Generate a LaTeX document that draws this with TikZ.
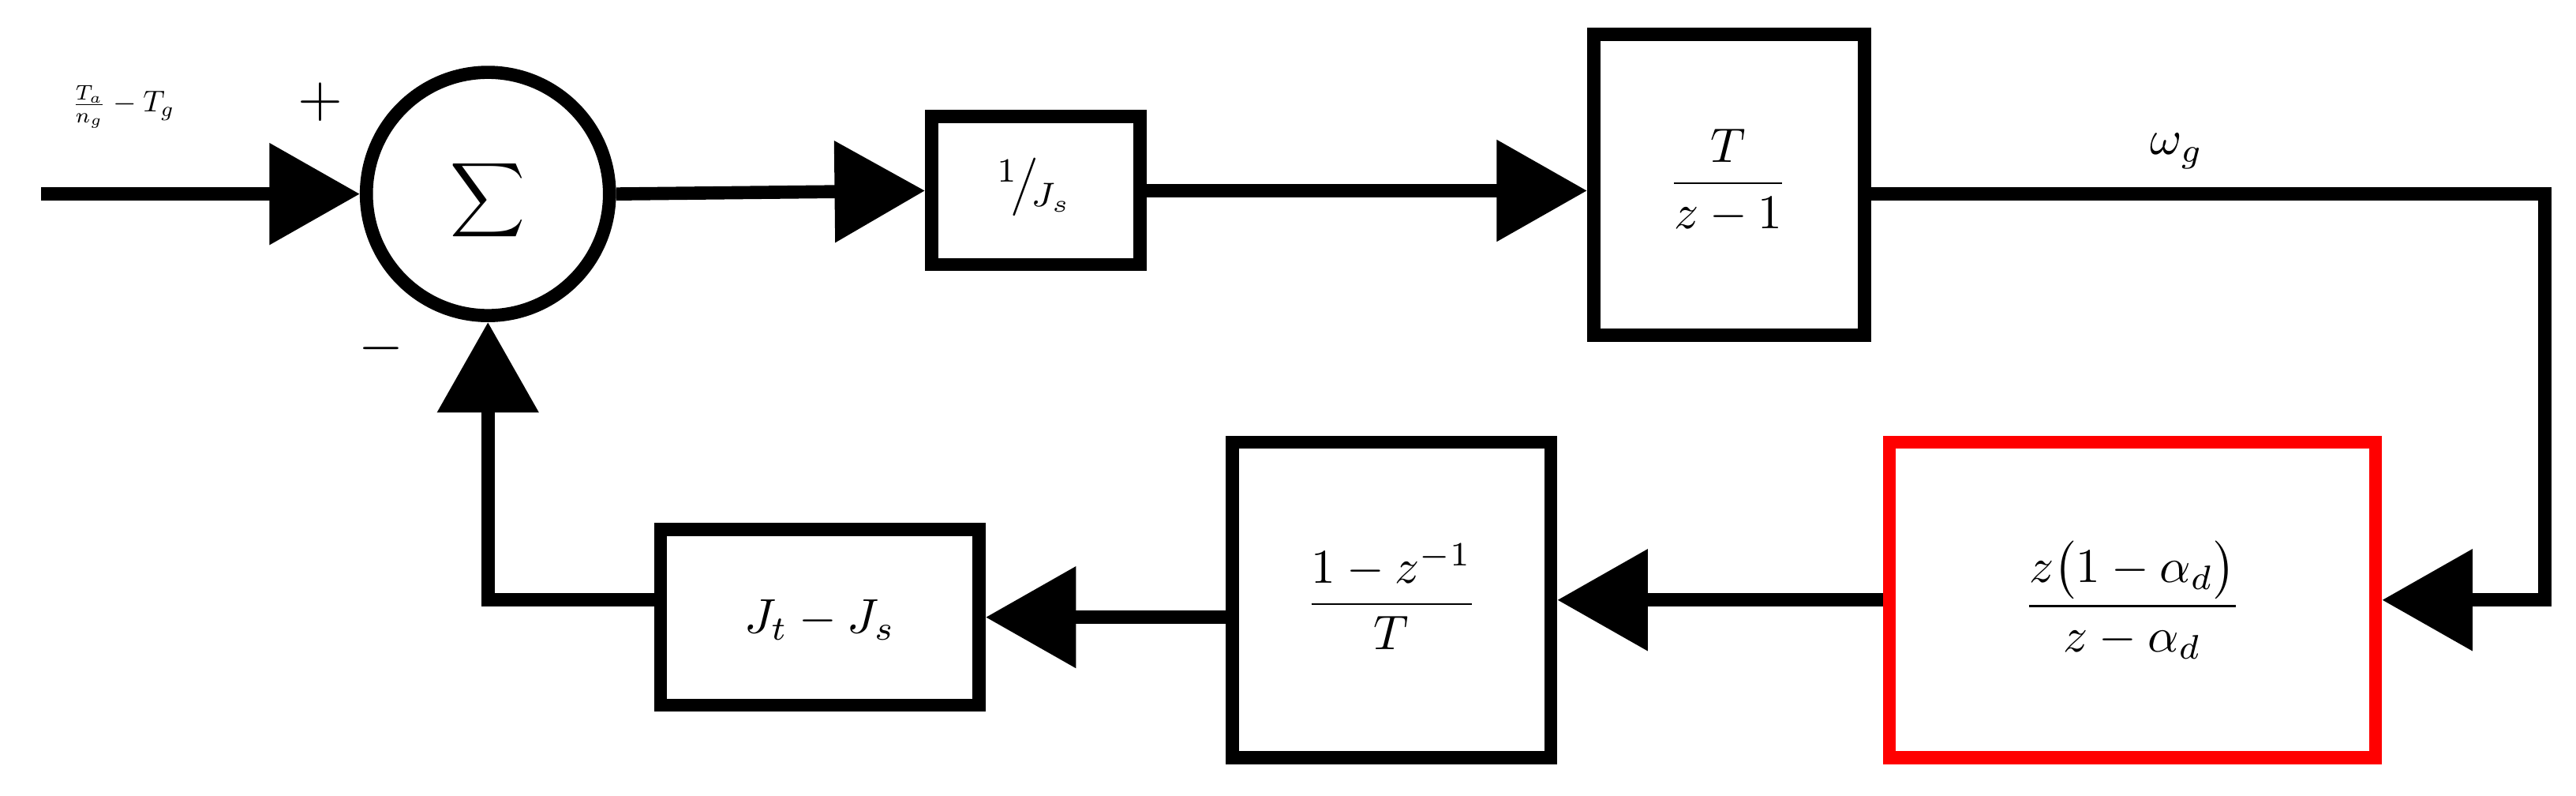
\documentclass[tikz,border=0pt]{standalone}
\usepackage{amsmath}
\usetikzlibrary{arrows.meta}
\begin{document}
\begin{tikzpicture}[x=0.05cm,y=-0.05cm,
  lw/.style={line width=0.4cm},
  blk/.style={draw,lw,inner sep=0pt},
  arr/.style={lw,-{Triangle[length=2.75cm,width=3cm]}},
  txt/.style={scale=4.2}]
\useasboundingbox (0,0) rectangle (1568,484);
% sum
\node[draw,lw,circle,minimum size=7.4cm,inner sep=0] (s) at (297,118) {};
\node[scale=4.5] at (297,122) {$\displaystyle\sum$};
\coordinate (in) at (25,118);
\draw[arr] (in) -- (s.west);
\node[scale=2.6] (lab) at (75,65) {$\frac{T_a}{n_g}-T_g$};
\node[scale=5] (pl) at (195,62) {$+$};
\node[scale=5] (mi) at (232,212) {$-$};
% blocks
\node[blk,minimum width=6.35cm,minimum height=4.5cm] (b1) at (630.5,116) {};
\node[txt] at (630,114) {$^{1}\!\big/\!_{J_s}$};
\node[blk,minimum width=8.25cm,minimum height=9.15cm] (b2) at (1052.5,112.5) {};
\node[txt] at (1052,110) {$\dfrac{T}{z-1}$};
\node[blk,red,minimum width=14.8cm,minimum height=9.6cm] (b3) at (1298,365) {};
\node[txt] at (1298,365) {$\dfrac{z\big(1-\alpha_d\big)}{z-\alpha_d}$};
\node[blk,minimum width=9.7cm,minimum height=9.6cm] (b4) at (847,365) {};
\node[txt] at (847,363) {$\dfrac{1-z^{-1}}{T}$};
\node[blk,minimum width=9.7cm,minimum height=5.35cm] (b5) at (499,375.5) {};
\node[txt] at (499,377) {$J_t-J_s$};
\node[scale=4.2] (w) at (1325,92) {$\omega_g$};
% connectors
\draw[arr] (s.east) -- (b1.west);
\draw[arr] (b1.east) -- (b2.west |- b1.east);
\coordinate (c1) at (1549,118);
\coordinate (c2) at (1549,365);
\draw[arr] (b2.east |- c1) -- (c1) -- (c2) -- (b3.east);
\draw[arr] (b3.west) -- (b4.east);
\draw[arr] (b4.west |- b5.east) -- (b5.east);
\coordinate (c3) at (297,365);
\draw[arr] (b5.west |- c3) -- (c3) -- (s.south);
\end{tikzpicture}
\end{document}
